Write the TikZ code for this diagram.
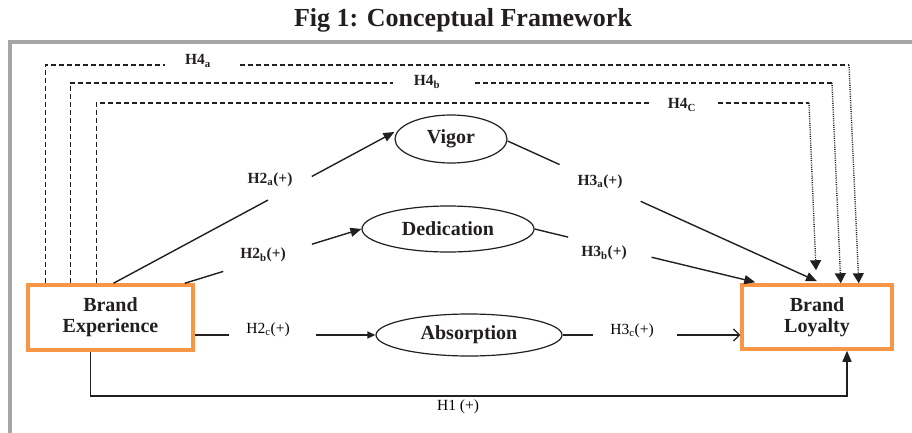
\documentclass[tikz,border=0pt]{standalone}
\usepackage{fontspec}
\setmainfont{Liberation Serif}
\usetikzlibrary{arrows.meta,calc,shapes.geometric}
\definecolor{frameorange}{HTML}{F79646}
\definecolor{framegray}{HTML}{A5A5A5}
\definecolor{ink}{HTML}{231F20}

\begin{document}
\begin{tikzpicture}[x=1pt,y=-1pt,
  construct/.style={draw=frameorange,line width=3.5pt,inner sep=0pt,align=center,
    font=\bfseries\fontsize{20}{21}\selectfont,text=ink},
  factor/.style={ellipse,draw=ink,line width=1.2pt,inner sep=0pt,
    font=\bfseries\fontsize{20}{21}\selectfont,text=ink},
  hyp/.style={inner sep=0pt,font=\bfseries\fontsize{15.5}{17}\selectfont,text=ink},
  hypreg/.style={inner sep=0pt,font=\fontsize{15.5}{17}\selectfont,text=black},
  link/.style={draw=ink,line width=1.4pt},
  tipfill/.style={-{Triangle[length=11pt,width=9pt]}},
  tipsmall/.style={-{Triangle[length=8pt,width=7pt]}},
  tipopen/.style={-{Straight Barb[length=6pt,width=12pt,line width=1.2pt]}},
  moderation/.style={draw=ink,line width=1.2pt,dash pattern=on 5pt off 3pt},
  dotlink/.style={draw=ink,line width=1.4pt,dash pattern=on 1pt off 1.2pt,
    -{Triangle[length=10pt,width=11pt]}},
]
\useasboundingbox (0,0) rectangle (912,433);

% outer frame and title
\draw[framegray,line width=4pt] (10,433) -- (10,42) -- (912,42);
\node[font=\bfseries\fontsize{26}{28}\selectfont,text=ink] (title) at (463,20) {Fig 1: Conceptual Framework};

% constructs
\node[construct,minimum width=165pt,minimum height=65pt] (BE) at (110.5,317.5) {Brand\\Experience};
\node[construct,minimum width=150pt,minimum height=64pt] (BL) at (817,317) {Brand\\Loyalty};

% engagement dimensions
\node[factor,minimum width=112pt,minimum height=48pt] (Vigor) at (451,139) {Vigor};
\node[factor,minimum width=172pt,minimum height=46pt] (Ded) at (448,229) {Dedication};
\node[factor,minimum width=186pt,minimum height=42pt] (Abs) at (469,335) {Absorption};

% hypothesis labels
\node[hyp] (h2a) at (270,180) {H2\textsubscript{a}(+)};
\node[hyp] (h2b) at (263,255) {H2\textsubscript{b}(+)};
\node[hypreg] (h2c) at (268,330) {H2\textsubscript{c}(+)};
\node[hyp] (h3a) at (600,182) {H3\textsubscript{a}(+)};
\node[hyp] (h3b) at (604,253) {H3\textsubscript{b}(+)};
\node[hypreg] (h3c) at (632,331) {H3\textsubscript{c}(+)};
\node[hypreg] (h1) at (458,407) {H1 (+)};
\node[hyp] (h4a) at (198,61) {H4\textsubscript{a}};
\node[hyp] (h4b) at (427,82) {H4\textsubscript{b}};
\node[hyp] (h4c) at (682,105) {H4\textsubscript{C}};

% end points of the paths
\coordinate (a0) at ([xshift=3pt]BE.north);
\coordinate (a1) at ([yshift=7pt]Vigor.west);
\coordinate (b0) at ([xshift=-10pt]BE.north east);
\coordinate (b1) at (Ded.west);
\coordinate (c0) at (BE.east |- Abs.west);
\coordinate (c1) at (Abs.west);
\coordinate (d0) at ([yshift=-2pt]Vigor.east);
\coordinate (d1) at ([yshift=2pt]BL.north);
\coordinate (e0) at (Ded.east);
\coordinate (e1) at ([xshift=15pt,yshift=1pt]BL.north west);
\coordinate (f0) at (Abs.east);
\coordinate (f1) at (BL.west |- Abs.east);

% BE -> engagement
\draw[link] (a0) -- ($(a0)!0.55!(a1)$);
\draw[link,tipfill] ($(a0)!0.706!(a1)$) -- (a1);
\draw[link] (b0) -- ($(b0)!0.218!(b1)$);
\draw[link,tipfill] ($(b0)!0.72!(b1)$) -- (b1);
\draw[link] (c0) -- ($(c0)!0.19!(c1)$);
\draw[link,tipsmall] ($(c0)!0.67!(c1)$) -- (c1);

% engagement -> BL
\draw[link] (d0) -- ($(d0)!0.168!(d1)$);
\draw[link,tipfill] ($(d0)!0.43!(d1)$) -- (d1);
\draw[link] (e0) -- ($(e0)!0.152!(e1)$);
\draw[link,tipfill] ($(e0)!0.53!(e1)$) -- (e1);
\draw[link] (f0) -- ($(f0)!0.17!(f1)$);
\draw[link,tipopen] ($(f0)!0.645!(f1)$) -- (f1);

% direct effect
\coordinate (h1c) at (847,396);
\draw[link,line width=1.2pt,tipfill] ([xshift=-20pt]BE.south) |- (h1c) -- ([xshift=30pt]BL.south);

% moderating paths
\coordinate (m4a) at (849,65);
\coordinate (m4b) at (832,83);
\coordinate (m4c) at (809,103);
\draw[moderation] ([xshift=19pt]BE.north west) |- (165,65);
\draw[moderation] (240,65) -- (m4a);
\draw[dotlink] (m4a) -- ([xshift=-35pt]BL.north east);
\draw[moderation] ([xshift=44pt]BE.north west) |- (393,83);
\draw[moderation] (475,83) -- (m4b);
\draw[dotlink] (m4b) -- ([xshift=-53pt]BL.north east);
\draw[moderation] ([xshift=70pt]BE.north west) |- (650,103);
\draw[moderation] (718,103) -- (m4c);
\draw[dotlink] (m4c) -- ([xshift=-1pt,yshift=13pt]BL.north);
\end{tikzpicture}
\end{document}
